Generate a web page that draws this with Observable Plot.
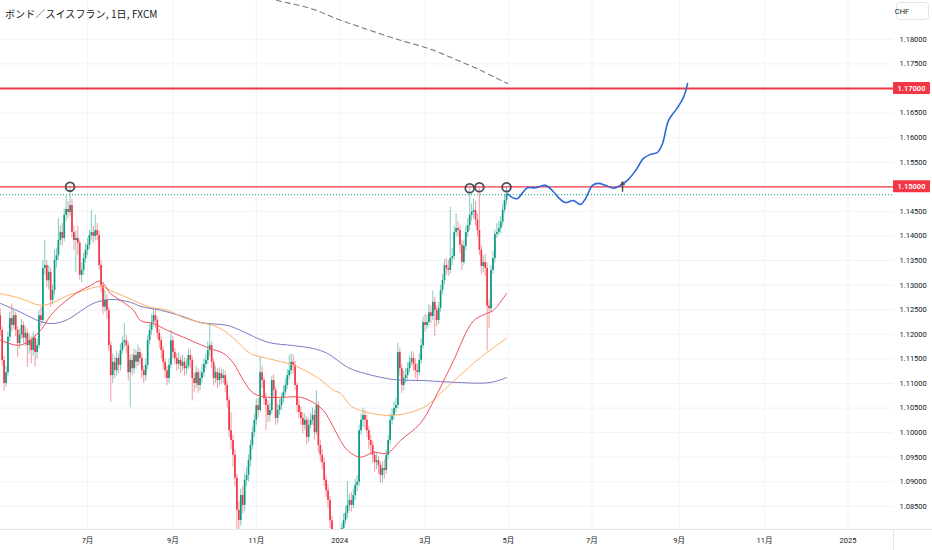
<!DOCTYPE html>
<html><head><meta charset="utf-8">
<script src="https://cdn.jsdelivr.net/npm/d3@7"></script>
<script src="https://cdn.jsdelivr.net/npm/@observablehq/plot@0.6"></script>
<style>
body{margin:0;background:#fff;}
#wrap{position:relative;width:932px;height:550px;overflow:hidden;font-family:Roboto,"Noto Sans CJK JP",sans-serif;}
#title{position:absolute;left:5px;top:6px;font-size:10px;color:#131722;font-family:"Noto Sans CJK JP",Roboto,sans-serif;letter-spacing:0.1px;}
svg{display:block;}
</style></head><body>
<div id="wrap"><div id="title">ボンド／スイスフラン, 1日, FXCM</div></div>
<script>
// ---- data (prices in 1/10000 CHF, daily bars from 2023-05-01, weekdays) ----
const startDate = "2023-05-01";
const firstOpen = 11238;
const closes = [
11208,11147,11100,11122,11194,11232,11218,11238,11208,11181,
11198,11218,11192,11202,11177,11187,11167,11192,11163,11177,
11238,11228,11334,11340,11309,11326,11269,11289,11350,11360,
11391,11407,11395,11442,11454,11448,11462,11407,11391,11395,
11385,11320,11330,11354,11371,11381,11401,11407,11399,11411,
11401,11340,11299,11255,11269,11248,11177,11116,11143,11126,
11151,11137,11167,11183,11187,11177,11122,11147,11130,11157,
11143,11163,11151,11126,11116,11137,11187,11208,11224,11238,
11228,11202,11187,11167,11143,11126,11110,11137,11187,11163,
11151,11139,11147,11135,11143,11130,11135,11157,11147,11110,
11100,11122,11096,11110,11122,11139,11147,11167,11177,11143,
11110,11122,11106,11120,11110,11116,11096,11065,11004,10984,
10954,10907,10842,10821,10872,10852,10903,10913,10943,10974,
11000,11025,11055,11045,11122,11106,11069,11055,11035,11045,
11106,11086,11029,11045,11055,11069,11082,11096,11116,11126,
11143,11137,11096,11055,11041,11029,11015,11025,10990,11015,
11025,11035,11000,11055,10974,10954,10939,10903,10882,10862,
10821,10781,10771,10750,10764,10781,10805,10821,10836,10852,
10862,10852,10872,10893,10899,11004,11025,11035,11025,11004,
10984,10974,10954,10939,10943,10933,10913,10927,10923,10954,
10984,11025,11035,11049,11055,11163,11130,11096,11110,11116,
11130,11143,11151,11139,11126,11122,11147,11177,11224,11218,
11224,11244,11236,11265,11248,11228,11253,11289,11309,11340,
11334,11330,11354,11358,11407,11415,11411,11381,11346,11379,
11407,11421,11442,11448,11452,11432,11411,11371,11338,11346,
11334,11257,11252,11330,11354,11403,11407,11415,11428,11452,
11472,11484];
const highs = [
11252,11215,11155,11135,11205,11245,11262,11250,11245,11215,
11210,11230,11225,11215,11210,11200,11195,11205,11200,11190,
11248,11255,11350,11391,11350,11340,11335,11300,11371,11375,
11435,11420,11425,11455,11481,11470,11500,11475,11420,11410,
11420,11392,11345,11365,11385,11395,11412,11452,11420,11442,
11425,11410,11350,11305,11290,11280,11255,11185,11160,11155,
11165,11160,11180,11195,11222,11198,11185,11158,11160,11170,
11168,11178,11172,11160,11135,11150,11198,11220,11240,11252,
11248,11235,11210,11195,11175,11150,11135,11150,11208,11195,
11172,11160,11162,11155,11158,11152,11150,11170,11168,11155,
11120,11135,11130,11125,11138,11150,11160,11185,11222,11185,
11150,11135,11130,11132,11128,11128,11125,11105,11072,11040,
10995,10965,10915,10860,10885,10890,10915,10930,10955,10985,
11012,11038,11068,11070,11154,11135,11112,11080,11065,11060,
11115,11118,11092,11058,11068,11080,11095,11110,11128,11157,
11160,11158,11145,11102,11068,11052,11040,11038,11032,11028,
11040,11050,11045,11085,11062,10985,10965,10948,10912,10895,
10870,10830,10795,10785,10780,10795,10815,10835,10850,10900,
10875,10878,10885,10905,10912,11015,11038,11050,11045,11035,
11012,10995,10982,10962,10958,10952,10940,10940,10945,10965,
10995,11038,11048,11062,11070,11182,11172,11138,11125,11130,
11142,11155,11165,11162,11150,11140,11160,11190,11235,11240,
11238,11260,11258,11288,11275,11258,11265,11300,11322,11352,
11355,11350,11458,11375,11420,11445,11430,11420,11390,11392,
11420,11435,11497,11465,11475,11470,11445,11499,11380,11360,
11362,11345,11270,11340,11368,11412,11425,11430,11440,11465,
11485,11499];
const lows = [
11195,11135,11084,11092,11115,11185,11205,11210,11195,11153,
11170,11190,11180,11175,11133,11160,11140,11155,11133,11150,
11170,11215,11220,11320,11295,11290,11255,11260,11280,11335,
11350,11380,11380,11388,11430,11435,11440,11395,11370,11326,
11360,11310,11305,11320,11345,11360,11372,11390,11385,11390,
11390,11330,11285,11240,11245,11230,11165,11062,11100,11110,
11115,11120,11125,11160,11172,11160,11105,11051,11115,11120,
11130,11135,11138,11110,11100,11105,11128,11178,11198,11215,
11212,11190,11172,11150,11128,11110,11095,11100,11130,11150,
11138,11125,11128,11120,11125,11115,11118,11128,11130,11065,
11082,11090,11080,11085,11100,11112,11130,11138,11155,11130,
11095,11100,11090,11095,11098,11100,11082,11050,10990,10965,
10930,10890,10790,10795,10810,10835,10840,10890,10900,10930,
10965,10990,11015,11030,11040,11090,11055,11004,11020,11022,
11038,11070,11015,11018,11035,11045,11060,11075,11088,11108,
11118,11120,11085,11040,11028,11015,10998,11005,10975,10980,
11008,11015,10985,10995,10960,10940,10925,10890,10868,10845,
10805,10765,10750,10725,10740,10750,10770,10795,10812,10825,
10840,10838,10845,10862,10880,10890,10995,11010,11005,10990,
10965,10955,10938,10920,10925,10915,10897,10898,10905,10915,
10945,10975,11015,11025,11040,11048,11115,11080,11085,11100,
11105,11122,11135,11125,11110,11105,11115,11140,11170,11205,
11210,11215,11222,11228,11196,11215,11220,11245,11280,11300,
11320,11318,11322,11340,11350,11398,11398,11365,11330,11340,
11370,11398,11410,11430,11435,11420,11398,11360,11322,11325,
11318,11166,11212,11245,11322,11345,11395,11400,11405,11420,
11445,11462];

// moving averages (bar index, price)
const maRedBars = [0,10.5,20.8,25.9,31.1,36.2,41.4,46.5,51.7,56.9,62,68.7,72.3,79,86.2,94.5,103.2,108.4,115.1,120.3,125.4,130.6,137.8,146,154.8,161.5,166.6,171.8,175.4,179,185.7,192.4,199.6,206.3,216.6,225.4,233.7,243.9,251.2,254.3,261];
const maRedVals = [1.1188,1.1178,1.1208,1.1238,1.1259,1.1275,1.1289,1.1299,1.1308,1.1283,1.1269,1.1249,1.1228,1.1222,1.1208,1.1194,1.1179,1.1171,1.1161,1.1141,1.1106,1.1080,1.1072,1.1072,1.1072,1.1061,1.1045,1.1011,1.0984,1.0964,1.0950,1.0960,1.0958,1.0984,1.1019,1.1080,1.1147,1.1227,1.1243,1.1249,1.1283];
const maOrangeBars = [0,10.5,20.8,27.5,34.7,43,51.7,56.9,68.7,77.5,86.2,94.5,103.2,109.9,115.1,120.3,129,137.8,151.2,163.6,171.8,175.4,180.6,185.7,201.2,218.2,227,235.7,247.6,261];
const maOrangeVals = [1.1283,1.1273,1.1259,1.1265,1.1279,1.1289,1.1297,1.1289,1.1269,1.1255,1.1249,1.1234,1.1224,1.1218,1.1208,1.1192,1.1161,1.1151,1.1137,1.1112,1.1086,1.1080,1.1055,1.1045,1.1035,1.1051,1.1080,1.1112,1.1153,1.1192];
const maPurpleBars = [0,10.5,20.8,27.5,34.7,41.4,48.1,56.9,67.2,72.3,82.6,92.9,103.2,117.2,123.9,137.8,151.2,161.5,168.7,179,185.7,202.7,218.2,235.7,252.7,261];
const maPurpleVals = [1.1263,1.1245,1.1226,1.1222,1.1230,1.1247,1.1263,1.1271,1.1265,1.1257,1.1249,1.1238,1.1224,1.1218,1.1208,1.1184,1.1177,1.1171,1.1161,1.1133,1.1123,1.1108,1.1106,1.1102,1.1102,1.1112];

// long-term dashed curve at the top
const dashBars = [129,142.9,159.9,175.4,190.9,206.3,220.3,233.7,247.6,261.5];
const dashVals = [1.1894,1.1879,1.1863,1.1839,1.1818,1.1798,1.1782,1.1761,1.1737,1.1710];

// hand-drawn forecast path
const pathBars = [261.5,264.1,266.6,269.2,271.8,275.9,281.1,284.7,287.8,291.4,295.5,299.1,301.7,305.3,308.4,312,316.1,319.7,323.3,327.5,331.6,335.2,338.8,341.4,344.5,349.1,352.2,354.3];
const pathVals = [1.1486,1.1478,1.1476,1.1488,1.1498,1.1498,1.1503,1.1492,1.1478,1.1468,1.1472,1.1464,1.1476,1.1503,1.1507,1.1503,1.1497,1.1503,1.1513,1.1533,1.1558,1.1566,1.1570,1.1588,1.1635,1.1661,1.1682,1.1710];

// markers
const circleBars = [36,242,247,261];
const circleVals = [1.1500,1.1497,1.1499,1.1499];
const arrowBar = 320.8, arrowFrom = 1.1491, arrowTo = 1.1510;

// levels
const levels = [1.17, 1.15];
const levelLabels = ["1.17000","1.15000"];
const lastPrice = 1.1484;

// axes
const yTicks = [1.085,1.09,1.095,1.10,1.105,1.11,1.115,1.12,1.125,1.13,1.135,1.14,1.145,1.15,1.155,1.16,1.165,1.17,1.175,1.18];
const tickDates = ["2023-07-03","2023-09-01","2023-11-01","2024-01-01","2024-03-01","2024-05-01","2024-07-01","2024-09-02","2024-11-01","2025-01-01"];
const tickLabels = ["7月","9月","11月","2024","3月","5月","7月","9月","11月","2025"];

// ---- build ----
function barIndex(s){
  const a = new Date(startDate+"T00:00:00Z"), b = new Date(s+"T00:00:00Z");
  let n = 0;
  for (let d = new Date(a); d < b; d.setUTCDate(d.getUTCDate()+1)) { const w = d.getUTCDay(); if (w !== 0 && w !== 6) n++; }
  return n;
}
const tickBars = tickDates.map(barIndex);
const labelOf = new Map(tickBars.map((b,k)=>[b, tickLabels[k]]));
const yLabelTicks = yTicks.filter(t => !levels.some(l => Math.abs(l - t) < 1e-9));

const candles = closes.map((c,i)=>({
  i, open:(i ? closes[i-1] : firstOpen)/1e4, close:c/1e4, high:highs[i]/1e4, low:lows[i]/1e4
}));
candles.forEach(d=>{ d.up = d.close >= d.open; });
const zip = (bs, vs) => bs.map((b,k)=>({b, v:vs[k]}));

const UP = "#089981", DN = "#f23645";

const plot = Plot.plot({
  width: 932, height: 550,
  marginLeft: 0, marginRight: 39, marginTop: 0, marginBottom: 21,
  x: {type: "linear", domain: [0.155, 460.46], axis: null},
  y: {domain: [1.0803, 1.1879], axis: null},
  style: {fontFamily: "Roboto, 'Noto Sans CJK JP', sans-serif", fontSize: "7.5px", color: "#131722", background: "#fff"},
  marks: [
    Plot.gridY(yTicks, {stroke: "#f0f3fa", strokeOpacity: 1}),
    Plot.gridX(tickBars, {stroke: "#f0f3fa", strokeOpacity: 1}),
    Plot.ruleX(candles, {x: "i", y1: "low", y2: "high", stroke: d => d.up ? UP : DN, strokeOpacity: 0.5, strokeWidth: 1, clip: true}),
    Plot.ruleX(candles, {x: "i", y1: "open", y2: "close", stroke: d => d.up ? UP : DN, strokeWidth: 1.7, clip: true}),
    Plot.line(zip(maPurpleBars, maPurpleVals), {x: "b", y: "v", stroke: "#7b7cc2", strokeWidth: 1, curve: "catmull-rom", clip: true}),
    Plot.line(zip(maOrangeBars, maOrangeVals), {x: "b", y: "v", stroke: "#ffae66", strokeWidth: 1, curve: "catmull-rom", clip: true}),
    Plot.line(zip(maRedBars, maRedVals), {x: "b", y: "v", stroke: "#f0505a", strokeWidth: 1, curve: "catmull-rom", clip: true}),
    Plot.line(zip(dashBars, dashVals), {x: "b", y: "v", stroke: "#787b86", strokeWidth: 1.1, strokeDasharray: "5,4", curve: "catmull-rom", clip: true}),
    Plot.ruleY([lastPrice], {stroke: UP, strokeWidth: 1, strokeDasharray: "1,2"}),
    Plot.ruleY([levels[1]], {stroke: "#f23645", strokeWidth: 1.3}),
    Plot.ruleY([levels[0]], {stroke: "#f23645", strokeWidth: 2.2}),
    Plot.line(zip(pathBars, pathVals), {x: "b", y: "v", stroke: "#2e66d6", strokeWidth: 1.6, curve: "catmull-rom"}),
    Plot.arrow([{x1: arrowBar, y1: arrowFrom, x2: arrowBar, y2: arrowTo}], {x1: "x1", y1: "y1", x2: "x2", y2: "y2", stroke: "#50535e", strokeWidth: 1.5, headLength: 5}),
    Plot.dot(zip(circleBars, circleVals), {x: "b", y: "v", r: 4.4, stroke: "#4a4d57", strokeWidth: 1.8, fill: "none"}),
    Plot.axisY(yLabelTicks, {anchor: "right", tickSize: 0, tickPadding: 6, tickFormat: d => d.toFixed(5), fontSize: 7.5, color: "#131722"}),
    Plot.axisX(tickBars, {anchor: "bottom", tickSize: 0, tickPadding: 8, tickFormat: d => labelOf.get(d), fontSize: 7.5, color: "#131722"})
  ]
});

const ys = plot.scale("y");
const svg = d3.select(plot);
// borders
svg.append("line").attr("x1",0).attr("x2",932).attr("y1",529.5).attr("y2",529.5).attr("stroke","#e0e3eb");
svg.append("line").attr("x1",893.5).attr("x2",893.5).attr("y1",529).attr("y2",550).attr("stroke","#e0e3eb");
// level labels on price scale
const g = svg.append("g");
levels.forEach((v,k)=>{
  const yy = ys.apply(v);
  g.append("rect").attr("x",893).attr("y",yy-6).attr("width",37).attr("height",12).attr("fill","#f23645").attr("rx",1);
  g.append("text").attr("x",911.5).attr("y",yy).attr("dy","0.34em").attr("text-anchor","middle")
    .attr("fill","#fff").attr("font-size","7.5px").attr("font-weight","600").text(levelLabels[k]);
});
// currency box
g.append("rect").attr("x",896.5).attr("y",2.5).attr("width",32).attr("height",17).attr("rx",3).attr("fill","#fff").attr("stroke","#e0e3eb");
g.append("text").attr("x",902).attr("y",11).attr("dy","0.34em").attr("font-size","7.5px").attr("fill","#131722").text("CHF");

document.getElementById("wrap").prepend(plot);
</script>
</body></html>
